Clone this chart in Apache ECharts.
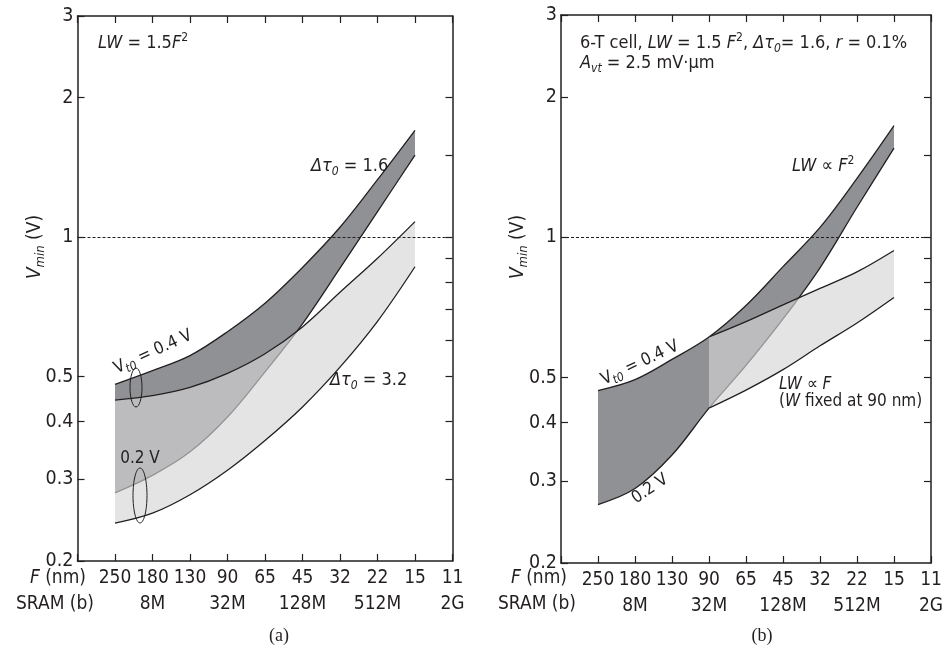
<!DOCTYPE html>
<html><head><meta charset="utf-8">
<script src="https://cdn.jsdelivr.net/npm/echarts@6/dist/echarts.min.js"></script>
<style>html,body{margin:0;padding:0;background:#fff}#c{width:948px;height:649px}</style>
</head><body><div id="c"></div>
<script>
// ---- data ----
const F_LABELS = ['250','180','130','90','65','45','32','22','15','11'];
const SRAM_LABELS = ['','8M','','32M','','128M','','512M','','2G'];
const Y_LABEL_VALUES = [0.2,0.3,0.4,0.5,1,2,3];
const Y_RIGHT_TICKS = [0.3,0.4,0.5,0.6,0.7,0.8,0.9,1,1.5,2];
const REF_LINE = 1;

// panel (a), LW = 1.5F^2 ; index 0..8 -> F = 250..15 nm
const a_dt16_vt04 = [0.481,0.515,0.555,0.625,0.72,0.86,1.05,1.33,1.70];
const a_dt16_vt02 = [0.2805,0.306,0.344,0.409,0.512,0.65,0.857,1.135,1.503];
const a_dt32_vt04 = [0.445,0.455,0.474,0.508,0.56,0.64,0.76,0.90,1.08];
const a_dt32_vt02 = [0.2415,0.2537,0.278,0.314,0.364,0.43,0.524,0.658,0.863];

// panel (b)
const b_F2_vt04 = [0.469,0.495,0.547,0.611,0.714,0.865,1.05,1.338,1.736];
const b_F2_vt02 = [0.267,0.289,0.341,0.43,0.531,0.668,0.86,1.16,1.554];
const b_F_vt04 = [null,null,null,0.611,0.659,0.716,0.777,0.843,0.937];
const b_F_vt02 = [null,null,null,0.43,0.47,0.52,0.585,0.655,0.743];

// ---- style ----
const FONT = '"DejaVu Sans Condensed","DejaVu Sans",sans-serif';
const INK = '#231f20';
const DARK = '#909194';
const LIGHT = 'rgba(212,213,215,0.64)';
const PAPER = '#ffffff';

function rich(size, lh){
  const s = Math.round(size*0.68);
  return {
    i:{fontSize:size,fontFamily:FONT,fontStyle:'italic',fill:INK,color:INK,lineHeight:lh},
    sub:{fontSize:s,fontFamily:FONT,fontStyle:'italic',verticalAlign:'bottom',fill:INK,color:INK},
    sup:{fontSize:s,fontFamily:FONT,verticalAlign:'top',fill:INK,color:INK}
  };
}

// each curve fills down to the axis start; later curves paint over earlier ones,
// which builds the shaded bands between pairs of curves
function curve(g, vals, fill, z){
  const idx = vals.map((v,i)=>i).filter(i=>vals[i]!=null);
  return {type:'line', xAxisIndex:2*g, yAxisIndex:2*g, smooth:0.35,
    symbol:'none', showSymbol:false, silent:true, animation:false,
    data: idx.map(i=>[i, vals[i]]),
    lineStyle:{color:INK,width:1.3},
    areaStyle:{color:fill, opacity:1, origin:'start'}, z:z};
}

function refLine(g){
  return {type:'line', xAxisIndex:2*g, yAxisIndex:2*g, data:[], silent:true,
    markLine:{silent:true, symbol:['none','none'], label:{show:false}, animation:false,
      lineStyle:{color:INK,type:[3,2],width:1}, data:[{yAxis:REF_LINE}]}, z:10};
}

const grids = [
  {left:77.5, top:16, width:375, height:545, outerBoundsMode:'none', containLabel:false},
  {left:561, top:15, width:370, height:548, outerBoundsMode:'none', containLabel:false}
];

const xAxes = [], yAxes = [];
grids.forEach((gr,g)=>{
  const axLine = {show:true, onZero:false, lineStyle:{color:INK,width:1.5}};
  const tick = {inside:true,length:7,lineStyle:{color:INK,width:1.2}};
  xAxes.push({type:'value', gridIndex:g, position:'bottom', min:-1, max:9, interval:1, z:20,
    axisLine:axLine, splitLine:{show:false}, axisTick:tick,
    axisLabel:{color:INK, fontSize:19, fontFamily:FONT, lineHeight:26, margin:4,
      showMinLabel:true, showMaxLabel:true, hideOverlap:false,
      formatter:v=> v<0 ? '' : F_LABELS[v] + '\n' + SRAM_LABELS[v]}});
  xAxes.push({type:'value', gridIndex:g, position:'top', min:-1, max:9, interval:1, z:20,
    axisLine:axLine, splitLine:{show:false}, axisTick:tick, axisLabel:{show:false}});
  yAxes.push({type:'log', logBase:10, gridIndex:g, position:'left', min:0.2, max:3, z:20,
    axisLine:axLine, splitLine:{show:false}, minorTick:{show:false},
    axisTick:Object.assign({customValues:Y_LABEL_VALUES}, tick),
    axisLabel:{color:INK, fontSize:19.5, fontFamily:FONT, margin:4, customValues:Y_LABEL_VALUES,
      showMinLabel:true, showMaxLabel:true, formatter:v=>String(+(+v).toFixed(2))}});
  yAxes.push({type:'log', logBase:10, gridIndex:g, position:'right', min:0.2, max:3, z:20,
    axisLine:axLine, splitLine:{show:false}, minorTick:{show:false},
    axisTick:Object.assign({customValues:Y_RIGHT_TICKS}, tick), axisLabel:{show:false}});
});

const series = [
  curve(0, a_dt16_vt04, DARK, 2),
  curve(0, a_dt16_vt02, PAPER, 3),
  curve(0, a_dt32_vt04, LIGHT, 4),
  curve(0, a_dt32_vt02, PAPER, 5),
  curve(1, b_F2_vt04, DARK, 2),
  curve(1, b_F2_vt02, PAPER, 3),
  curve(1, b_F_vt04, LIGHT, 4),
  curve(1, b_F_vt02, PAPER, 5),
  refLine(0), refLine(1)
];

function T(x, y, text, o){
  o = o || {};
  const size = o.size || 18;
  const lh = Math.round(size*1.3);
  return {type:'text', x:x, y:y, rotation:o.rot||0, silent:true, z:50,
    style:{text:text, fontSize:size, fontFamily:o.family||FONT, fill:INK, lineHeight:lh,
      align:o.align||'left', textAlign:o.align||'left',
      verticalAlign:'middle', textVerticalAlign:'middle', rich:rich(size, lh)}};
}

const SERIF = '"Liberation Serif","Times New Roman",serif';
const graphics = [
  // panel (a)
  T(98, 43, '{i|LW} = 1.5{i|F}{sup|2}'),
  T(311, 166, '{i|Δτ}{sub|0} = 1.6'),
  T(330, 380, '{i|Δτ}{sub|0} = 3.2'),
  T(153, 352, 'V{sub|t0} = 0.4 V', {align:'center', rot:0.43, size:17}),
  T(140, 459, '0.2 V', {align:'center', size:17}),
  T(86, 578, '{i|F} (nm)', {align:'right', size:19}),
  T(94, 604, 'SRAM (b)', {align:'right', size:19}),
  T(35, 247, '{i|V}{sub|min} (V)', {align:'center', size:19, rot:Math.PI/2}),
  T(279, 636, '(a)', {align:'center', size:18, family:SERIF}),
  {type:'ellipse', silent:true, z:50, shape:{cx:136, cy:387.5, rx:6, ry:19.5},
    style:{fill:'none', stroke:INK, lineWidth:1}},
  {type:'ellipse', silent:true, z:50, shape:{cx:140, cy:495.5, rx:7, ry:27.5},
    style:{fill:'none', stroke:INK, lineWidth:1}},
  // panel (b)
  T(580, 43, '6-T cell, {i|LW} = 1.5 {i|F}{sup|2}, {i|Δτ}{sub|0}= 1.6, {i|r} = 0.1%'),
  T(580, 63, '{i|A}{sub|vt} = 2.5 mV·μm'),
  T(792, 166, '{i|LW} ∝ {i|F}{sup|2}'),
  T(779, 385, '{i|LW} ∝ {i|F}', {size:17}),
  T(779, 402, '({i|W} fixed at 90 nm)', {size:17}),
  T(640, 363, 'V{sub|t0} = 0.4 V', {align:'center', rot:0.44, size:17}),
  T(650, 489, '0.2 V', {align:'center', rot:0.59, size:17}),
  T(567, 578, '{i|F} (nm)', {align:'right', size:19}),
  T(576, 604, 'SRAM (b)', {align:'right', size:19}),
  T(518, 247, '{i|V}{sub|min} (V)', {align:'center', size:19, rot:Math.PI/2}),
  T(762, 636, '(b)', {align:'center', size:18, family:SERIF})
];

const chart = echarts.init(document.getElementById('c'), null, {renderer:'canvas'});
chart.setOption({
  animation:false,
  backgroundColor:'#fff',
  grid: grids,
  xAxis: xAxes,
  yAxis: yAxes,
  series: series,
  graphic: graphics
});
</script></body></html>
